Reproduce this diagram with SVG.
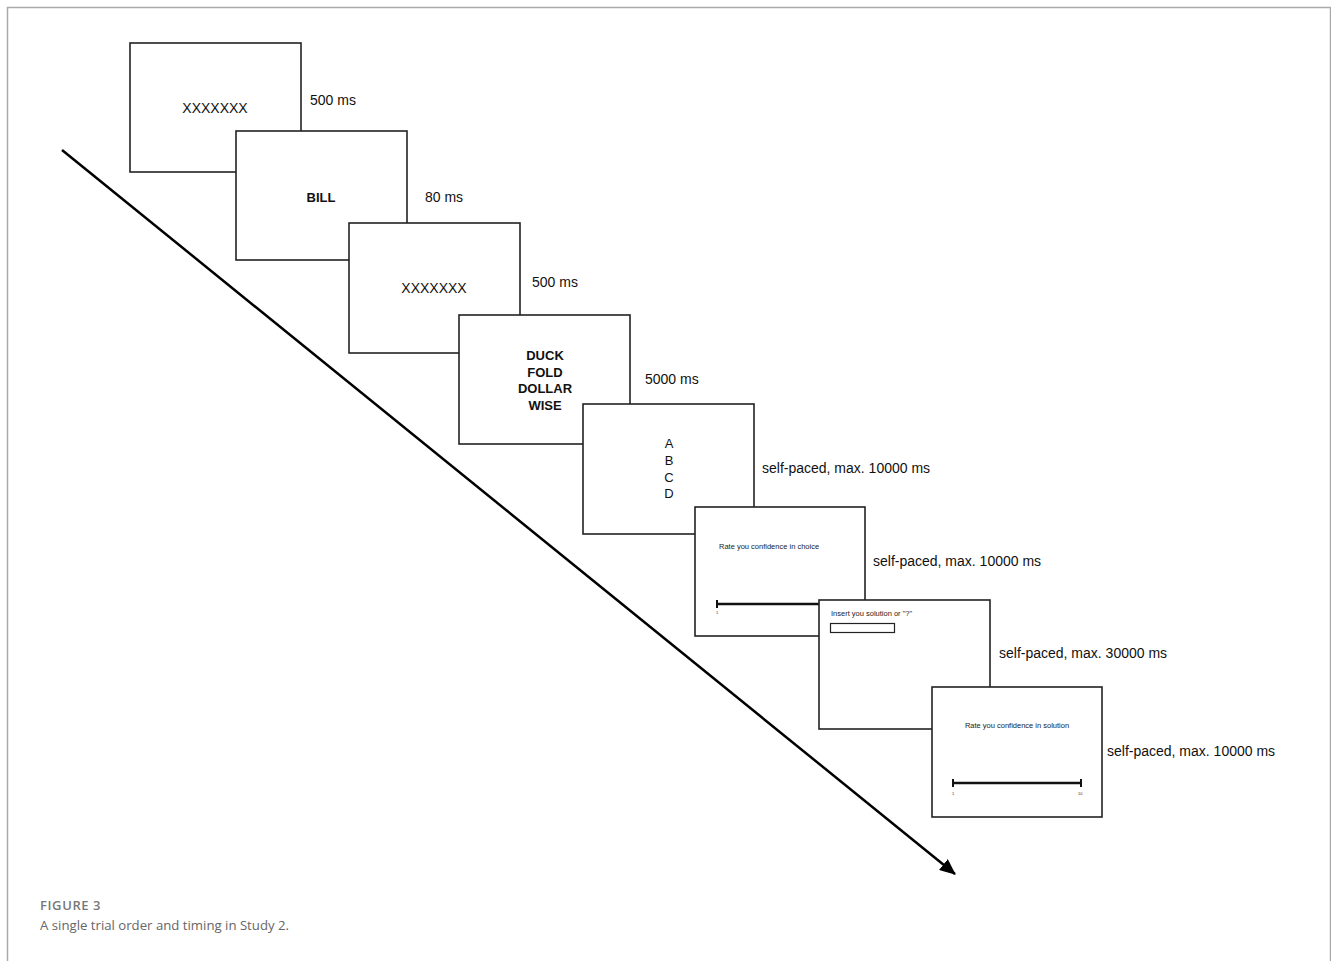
<svg xmlns="http://www.w3.org/2000/svg" width="1331" height="961" viewBox="0 0 1331 961">
<defs>
<marker id="ah" markerWidth="16" markerHeight="14" refX="15" refY="7" orient="auto" markerUnits="userSpaceOnUse">
<path d="M0,0 L16,7 L0,14 Z" fill="#000"/>
</marker>
<style>
.box{fill:#fff;stroke:#222;stroke-width:1.6}
.t{font-family:"Liberation Sans",Arial,sans-serif;font-size:14px;fill:#111}
.c{font-family:"Liberation Sans",Arial,sans-serif;font-size:13px;fill:#111;text-anchor:middle}
.x{font-size:14px}
.b{font-weight:bold}
.s{font-family:"Liberation Sans",Arial,sans-serif;font-size:7.5px;fill:#222}
.tiny{font-family:"Liberation Sans",Arial,sans-serif;font-size:4px;fill:#333}
.bar{stroke:#111;stroke-width:2.5}
.tick{stroke:#111;stroke-width:2}
</style>
</defs>
<rect width="1331" height="961" fill="#fff"/>
<path d="M7.5,961 V7.5 H1330.5 V961" fill="none" stroke="#aaa" stroke-width="1.5"/>

<g id="connectors">
<line x1="62" y1="150" x2="955" y2="874" stroke="#000" stroke-width="2.5" marker-end="url(#ah)"/>
</g>

<g id="screen1">
<rect class="box" x="130" y="43" width="171" height="129"/>
<text class="c x" x="215" y="113">XXXXXXX</text>
<text class="t" x="310" y="105">500 ms</text>
</g>
<g id="screen2">
<rect class="box" x="236" y="131" width="171" height="129"/>
<text class="c b" x="321" y="202">BILL</text>
<text class="t" x="425" y="202">80 ms</text>
</g>
<g id="screen3">
<rect class="box" x="349" y="223" width="171" height="130"/>
<text class="c x" x="434" y="293">XXXXXXX</text>
<text class="t" x="532" y="287">500 ms</text>
</g>
<g id="screen4">
<rect class="box" x="459" y="315" width="171" height="129"/>
<text class="c b" x="545" y="360">DUCK</text>
<text class="c b" x="545" y="377">FOLD</text>
<text class="c b" x="545" y="393">DOLLAR</text>
<text class="c b" x="545" y="410">WISE</text>
<text class="t" x="645" y="384">5000 ms</text>
</g>
<g id="screen5">
<rect class="box" x="583" y="404" width="171" height="130"/>
<text class="c" x="669" y="448">A</text>
<text class="c" x="669" y="465">B</text>
<text class="c" x="669" y="482">C</text>
<text class="c" x="669" y="498">D</text>
<text class="t" x="762" y="473">self-paced, max. 10000 ms</text>
</g>
<g id="screen6">
<rect class="box" x="695" y="507" width="170" height="129"/>
<text class="s" x="719" y="549">Rate you confidence in choice</text>
<line class="bar" x1="717" y1="604" x2="820" y2="604"/>
<line class="tick" x1="717" y1="600" x2="717" y2="608"/>
<text class="tiny" x="716" y="614">1</text>
<text class="t" x="873" y="566">self-paced, max. 10000 ms</text>
</g>
<g id="screen7">
<rect class="box" x="819" y="600" width="171" height="129"/>
<text class="s" x="831" y="616">Insert you solution or "?"</text>
<rect x="830.5" y="623.5" width="64" height="9" fill="none" stroke="#222" stroke-width="1.2"/>
<text class="t" x="999" y="658">self-paced, max. 30000 ms</text>
</g>
<g id="screen8">
<rect class="box" x="932" y="687" width="170" height="130"/>
<text class="s" x="1017" y="728" text-anchor="middle">Rate you confidence in solution</text>
<line class="bar" x1="953" y1="783" x2="1081" y2="783"/>
<line class="tick" x1="953" y1="779" x2="953" y2="787"/>
<line class="tick" x1="1081" y1="779" x2="1081" y2="787"/>
<text class="tiny" x="952" y="795">1</text>
<text class="tiny" x="1078" y="795">10</text>
<text class="t" x="1107" y="756">self-paced, max. 10000 ms</text>
</g>

<g id="caption">
<text x="40" y="910" font-family="'Open Sans',sans-serif" font-size="13" font-weight="600" letter-spacing="0.6" fill="#777">FIGURE 3</text>
<text x="40" y="930" font-family="'Open Sans',sans-serif" font-size="13.2" fill="#666">A single trial order and timing in Study 2.</text>
</g>
</svg>
